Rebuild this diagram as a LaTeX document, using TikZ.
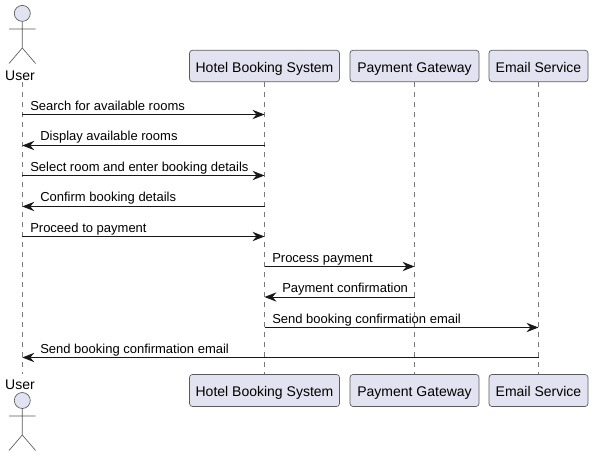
\documentclass[tikz,border=0pt]{standalone}
\usepackage{fontspec}
\setmainfont{Liberation Sans}
\usetikzlibrary{arrows.meta}
\definecolor{partfill}{HTML}{E2E2F0}
\definecolor{partline}{HTML}{5A5A5F}
\definecolor{lifeline}{HTML}{7A7A7E}
\definecolor{msgline}{HTML}{181818}
\tikzset{
  participant/.style={draw=partline,fill=partfill,rounded corners=2.2pt,line width=0.5pt,inner sep=0pt,anchor=center,font=\fontsize{10.5}{12}\selectfont,text=black,text height=10.5pt,text depth=2pt},
  participanttop/.style={participant,text height=11.5pt},
  actorhead/.style={circle,draw=partline,fill=partfill,line width=0.5pt,minimum size=12pt,inner sep=0pt},
  actorlimb/.style={draw=partline,line width=0.5pt},
  actorname/.style={font=\fontsize{10.5}{12}\selectfont,inner sep=0pt,text=black,anchor=base},
  lifedash/.style={draw=lifeline,line width=0.4pt,dash pattern=on 3.75pt off 3.75pt},
  msg/.style={draw=msgline,line width=0.75pt,-{Stealth[length=9pt,width=7pt,inset=3pt]}},
  msgtext/.style={font=\fontsize{9.75}{11}\selectfont,inner sep=0pt,anchor=base west,text=black},
}
\begin{document}
\begin{tikzpicture}[x=0.75pt,y=-0.75pt]
\useasboundingbox (0,0) rectangle (593,456);
% name labels and participant boxes
\node[actorname] (utopname) at (20,81) {User};
\node[actorname] (ubotname) at (20,389.5) {User};
\node[participanttop,minimum width=112.5pt,minimum height=23.6pt] (htop) at (264.5,66) {Hotel Booking System};
\node[participanttop,minimum width=96.75pt,minimum height=23.6pt] (ptop) at (414.5,66) {Payment Gateway};
\node[participanttop,minimum width=74.25pt,minimum height=23.6pt] (etop) at (538.5,66) {Email Service};
\node[participant,minimum width=112.5pt,minimum height=24pt] (hbot) at (264.5,390.5) {Hotel Booking System};
\node[participant,minimum width=96.75pt,minimum height=24pt] (pbot) at (414.5,390.5) {Payment Gateway};
\node[participant,minimum width=74.25pt,minimum height=24pt] (ebot) at (538.5,390.5) {Email Service};
% lifelines
\coordinate (ua) at (22.3,82);
\coordinate (ub) at (22.3,374);
\draw[lifedash] (ua) -- (ub);
\draw[lifedash] (htop.south) -- (hbot.north);
\draw[lifedash] (ptop.south) -- (pbot.north);
\draw[lifedash] (etop.south) -- (ebot.north);
% actors
\node[actorhead] (uhead) at (22.3,13.4) {};
\coordinate (uhip) at (22.3,48);
\coordinate (ularm) at (9,29);
\coordinate (urarm) at (35.6,29);
\coordinate (ulleg) at (9,63.5);
\coordinate (urleg) at (35.6,63.5);
\draw[actorlimb] (uhead.south) -- (uhip) (ularm) -- (urarm) (ulleg) -- (uhip) -- (urleg);
\node[actorhead] (bhead) at (22.3,400.5) {};
\coordinate (bhip) at (22.3,435);
\coordinate (blarm) at (9,416);
\coordinate (brarm) at (35.6,416);
\coordinate (blleg) at (9,450.5);
\coordinate (brleg) at (35.6,450.5);
\draw[actorlimb] (bhead.south) -- (bhip) (blarm) -- (brarm) (blleg) -- (bhip) -- (brleg);
% messages
\foreach \n/\yy in {1/114.5,2/145.5,3/175.5,4/206.5,5/236.5,6/266.5,7/297,8/327.5,9/357.5}{
  \coordinate (u\n) at (22.3,\yy);
  \coordinate (h\n) at (264.5,\yy);
  \coordinate (p\n) at (414.5,\yy);
  \coordinate (e\n) at (538.5,\yy);
}
\draw[msg] (u1) -- (h1);
\draw[msg] (h2) -- (u2);
\draw[msg] (u3) -- (h3);
\draw[msg] (h4) -- (u4);
\draw[msg] (u5) -- (h5);
\draw[msg] (h6) -- (p6);
\draw[msg] (p7) -- (h7);
\draw[msg] (h8) -- (e8);
\draw[msg] (e9) -- (u9);
\node[msgtext] (t1) at (30,110.5) {Search for available rooms};
\node[msgtext] (t2) at (40,141) {Display available rooms};
\node[msgtext] (t3) at (30,171.5) {Select room and enter booking details};
\node[msgtext] (t4) at (40,202) {Confirm booking details};
\node[msgtext] (t5) at (30,232.5) {Proceed to payment};
\node[msgtext] (t6) at (272,262.5) {Process payment};
\node[msgtext] (t7) at (282,292.5) {Payment confirmation};
\node[msgtext] (t8) at (272,323.5) {Send booking confirmation email};
\node[msgtext] (t9) at (40,353.5) {Send booking confirmation email};
\end{tikzpicture}
\end{document}
